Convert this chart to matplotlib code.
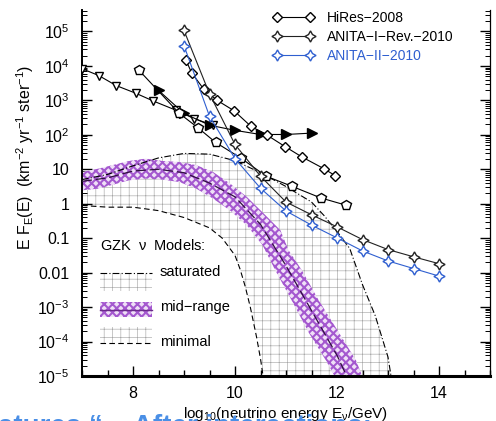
import matplotlib
matplotlib.use("Agg")
import matplotlib.pyplot as plt
import numpy as np
from matplotlib.patches import Rectangle
from matplotlib.lines import Line2D
from matplotlib.ticker import FixedLocator, LogLocator, NullFormatter, MultipleLocator

plt.rcParams['font.family'] = ['Liberation Sans', 'DejaVu Sans']
plt.rcParams['mathtext.fontset'] = 'custom'
plt.rcParams['mathtext.rm'] = 'Liberation Sans'
plt.rcParams['mathtext.it'] = 'Liberation Sans:italic'
plt.rcParams['mathtext.default'] = 'regular'

# ---- data (log10 E/GeV, log10 flux) ----
hires_x = [9.04, 9.15, 9.39, 9.65, 9.98, 10.31, 10.63, 10.98, 11.31, 11.74, 11.97]
hires_y = [4.16, 3.80, 3.32, 3.00, 2.70, 2.25, 1.99, 1.66, 1.36, 1.02, 0.81]

anita1_x = [9.0, 9.5, 10.0, 10.5, 11.0, 11.5, 12.0, 12.5, 13.0, 13.5, 14.0]
anita1_y = [5.03, 3.19, 1.72, 0.80, 0.05, -0.32, -0.67, -1.04, -1.33, -1.54, -1.74]

anita2_x = [9.0, 9.5, 10.0, 10.5, 11.0, 11.5, 12.0, 12.5, 13.0, 13.5, 14.0]
anita2_y = [4.59, 2.54, 1.31, 0.45, -0.21, -0.62, -0.99, -1.37, -1.66, -1.88, -2.10]

pent_x = [8.12, 8.91, 9.27, 9.62, 10.12, 10.61, 11.11, 11.68, 12.17]
pent_y = [3.87, 2.62, 2.21, 1.78, 1.32, 0.80, 0.51, 0.17, -0.04]

tri_x = [7.0, 7.33, 7.67, 8.05, 8.4, 8.85, 9.2, 9.57]
tri_y = [3.92, 3.72, 3.43, 3.21, 2.98, 2.71, 2.47, 2.28]

ftri_x = [8.5, 9.0, 9.5, 10.0, 10.5, 11.0, 11.5]
ftri_y = [3.29, 2.62, 2.28, 2.13, 2.01, 2.01, 2.05]

# GZK model envelopes
sat_x = [7.0, 7.5, 8.0, 8.5, 9.0, 9.5, 10.0, 10.5, 11.0, 11.5, 11.75, 12.0, 12.25, 12.5, 12.75, 13.0, 13.07]
sat_y = [0.70, 0.85, 1.10, 1.33, 1.46, 1.44, 1.25, 0.90, 0.50, 0.05, -0.35, -0.80, -1.30, -2.35, -3.25, -4.45, -5.10]

min_x = [7.0, 7.5, 8.0, 8.5, 9.0, 9.5, 9.75, 10.0, 10.1, 10.2, 10.3, 10.42, 10.5, 10.56]
min_y = [-0.05, -0.10, -0.10, -0.20, -0.40, -0.70, -1.00, -1.50, -1.90, -2.40, -3.00, -3.85, -4.50, -5.10]

mid_lo_x = [7.0, 7.33, 7.92, 8.25, 8.58, 8.91, 9.24, 9.57, 9.90, 10.23, 10.54, 10.79, 11.11, 11.45, 11.78, 11.99]
mid_lo_y = [0.39, 0.44, 0.68, 0.73, 0.70, 0.63, 0.44, 0.15, -0.19, -0.62, -1.20, -1.93, -2.80, -3.75, -4.54, -5.10]
mid_hi_x = [7.0, 7.33, 7.92, 8.25, 8.58, 8.91, 9.24, 9.57, 9.90, 10.23, 10.56, 10.89, 11.05, 11.31, 11.64, 12.04, 12.37, 12.52]
mid_hi_y = [0.92, 1.02, 1.24, 1.31, 1.24, 1.21, 1.12, 0.92, 0.59, 0.20, -0.28, -0.77, -1.35, -1.93, -2.80, -3.75, -4.54, -5.10]
mid_c_x = [7.0, 7.5, 8.0, 8.5, 9.0, 9.5, 10.0, 10.5, 11.0, 11.5, 12.0, 12.22]
mid_c_y = [0.65, 0.75, 0.95, 1.00, 0.90, 0.60, 0.20, -0.60, -1.80, -3.10, -4.40, -5.10]

x_ticks = [8, 10, 12, 14]
y_ticks = [-5, -4, -3, -2, -1, 0, 1, 2, 3, 4, 5]
y_ticklabels = ['10$^{-5}$', '10$^{-4}$', '10$^{-3}$', '0.01', '0.1', '1', '10',
                '10$^{2}$', '10$^{3}$', '10$^{4}$', '10$^{5}$']

blue = '#2f5fd0'
purple = '#a458cf'
grid_c = '#a8a8a8'
grid_lw = 0.45
band_lw = 1.5

fig = plt.figure(figsize=(4.96, 4.21), dpi=100)
ax = fig.add_axes([82 / 496, 1 - 376 / 421, 408 / 496, 366 / 421])

p = lambda v: 10 ** np.asarray(v, dtype=float)

# dotted-grid region between minimal and saturated
plt.rcParams['hatch.linewidth'] = grid_lw
poly_x = list(sat_x) + list(min_x)[::-1]
poly_y = list(sat_y) + list(min_y)[::-1]
ax.fill(poly_x, p(poly_y), facecolor='none', edgecolor=grid_c, hatch='++', lw=0, zorder=1)
ax.plot(sat_x, p(sat_y), color='k', lw=0.8, ls=(0, (6, 2, 1, 2)), zorder=3)
ax.plot(min_x, p(min_y), color='k', lw=0.8, ls=(0, (5, 3)), zorder=3)

# mid-range purple band
plt.rcParams['hatch.linewidth'] = band_lw
band_x = list(mid_hi_x) + list(mid_lo_x)[::-1]
band_y = list(mid_hi_y) + list(mid_lo_y)[::-1]
ax.fill(band_x, p(band_y), facecolor='#efe0f7', edgecolor=purple, hatch='xxxx', lw=0, zorder=2)
ax.plot(mid_c_x, p(mid_c_y), color='#301040', lw=0.9, ls=(0, (8, 3)), zorder=3)

# limits
mk = dict(mfc='white', lw=0.8, zorder=5)
ax.plot(tri_x, p(tri_y), color='k', marker='v', ms=6, **mk)
ax.plot(ftri_x, p(ftri_y), color='k', marker='>', ms=6.5, lw=0.8, zorder=5)
ax.plot(pent_x, p(pent_y), color='k', marker='p', ms=7.5, **mk)
ax.plot(hires_x, p(hires_y), color='k', marker='D', ms=5, label='HiRes\u22122008', **mk)
ax.plot(anita1_x, p(anita1_y), color='#222222', marker=(4, 1, 0), ms=8, label='ANITA\u2212I\u2212Rev.\u22122010', **mk)
ax.plot(anita2_x, p(anita2_y), color=blue, marker=(4, 1, 0), ms=8, label='ANITA\u2212II\u22122010', **mk)

ax.set_xlim(7, 15)
ax.set_yscale('log')
ax.set_ylim(1e-5, 4.2e5)

ax.xaxis.set_major_locator(FixedLocator(x_ticks))
ax.xaxis.set_minor_locator(MultipleLocator(0.5))
ax.yaxis.set_major_locator(FixedLocator([10.0 ** v for v in y_ticks]))
ax.set_yticklabels(y_ticklabels)
ax.yaxis.set_minor_locator(LogLocator(base=10, subs=np.arange(2, 10), numticks=20))
ax.yaxis.set_minor_formatter(NullFormatter())
ax.tick_params(which='both', direction='in', top=False, right=True, labelsize=11.5, color='k')
ax.tick_params(axis='y', which='major', length=7, width=1.0, pad=9)
ax.tick_params(axis='y', which='minor', length=3.5, width=0.7)
ax.tick_params(axis='x', which='major', length=7, width=1.0, pad=7)
ax.tick_params(axis='x', which='minor', length=4, width=1.0)

ax.spines['top'].set_visible(False)
ax.spines['bottom'].set_linewidth(2.2)
ax.spines['left'].set_linewidth(1.4)
ax.spines['right'].set_linewidth(0.9)

ax.set_xlabel(r'log$_{10}$(neutrino energy E$_{\nu}$/GeV)', fontsize=11, labelpad=3)
fig.text(0.05, 1 - 157 / 421, r'E F$_{E}$(E)  (km$^{-2}$ yr$^{-1}$ ster$^{-1}$)',
         rotation=90, ha='center', va='center', fontsize=11.5)

leg = ax.legend(loc='upper left', bbox_to_anchor=(0.468, 0.997), frameon=False,
                borderpad=0, borderaxespad=0, handlelength=3.0, handletextpad=0.9,
                labelspacing=0.35, numpoints=2, fontsize=10)
for t, c in zip(leg.get_texts(), ['k', 'k', blue]):
    t.set_color(c)

# GZK model key
ax.text(18 / 408, 1 - 235 / 366, r'GZK  $\nu$  Models:', transform=ax.transAxes,
        fontsize=10.5, va='center')
sw_x0, sw_w = 18 / 408, 52 / 408
plt.rcParams['hatch.linewidth'] = grid_lw
ax.add_patch(Rectangle((sw_x0, 1 - 281 / 366), sw_w, 18 / 366, transform=ax.transAxes,
                       facecolor='none', edgecolor=grid_c, hatch='++', lw=0))
ax.add_line(Line2D([sw_x0, sw_x0 + sw_w], [1 - 263 / 366] * 2, transform=ax.transAxes,
                   color='k', lw=0.8, ls=(0, (6, 2, 1, 2))))
ax.text(78 / 408, 1 - 262 / 366, 'saturated', transform=ax.transAxes, fontsize=10.5, va='center')

plt.rcParams['hatch.linewidth'] = band_lw
ax.add_patch(Rectangle((sw_x0, 1 - 307 / 366), sw_w, 15 / 366, transform=ax.transAxes,
                       facecolor='#efe0f7', edgecolor=purple, hatch='xxxx', lw=0))
ax.add_line(Line2D([sw_x0, sw_x0 + sw_w], [1 - 299.5 / 366] * 2, transform=ax.transAxes,
                   color='#6a2a8a', lw=1.0))
ax.text(78 / 408, 1 - 297 / 366, 'mid\u2212range', transform=ax.transAxes, fontsize=10.5, va='center')

plt.rcParams['hatch.linewidth'] = grid_lw
ax.add_patch(Rectangle((sw_x0, 1 - 333 / 366), sw_w, 16 / 366, transform=ax.transAxes,
                       facecolor='none', edgecolor=grid_c, hatch='++', lw=0))
ax.add_line(Line2D([sw_x0, sw_x0 + sw_w], [1 - 333 / 366] * 2, transform=ax.transAxes,
                   color='k', lw=0.8, ls=(0, (5, 3))))
ax.text(78 / 408, 1 - 332 / 366, 'minimal', transform=ax.transAxes, fontsize=10.5, va='center')

# slide title peeking in at the bottom
fig.text(-0.005, -0.03, 'atures \u201c    After interactions:', color='#4a8fe6',
         fontsize=20, va='baseline', ha='left', fontweight='bold', zorder=0)

fig.savefig('out.png', dpi=100)
